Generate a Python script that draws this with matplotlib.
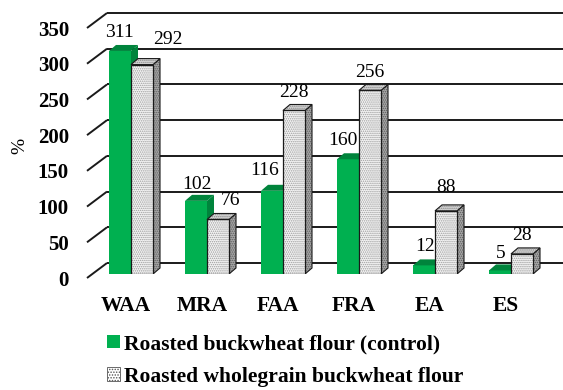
import numpy as np
import matplotlib
matplotlib.use("Agg")
import matplotlib.pyplot as plt
from matplotlib.patches import Polygon, Patch
from matplotlib.transforms import ScaledTranslation

# ---- data -------------------------------------------------------------
categories = ["WAA", "MRA", "FAA", "FRA", "EA", "ES"]
control = [311, 102, 116, 160, 12, 5]
wholegrain = [292, 76, 228, 256, 88, 28]
series_names = ["Roasted buckwheat flour (control)",
                "Roasted wholegrain buckwheat flour"]
y_ticks = [0, 50, 100, 150, 200, 250, 300, 350]

# label nudges in pixels (dx, dy) from the top-centre of each bar face
control_nudge = [(-1, 18), (1, 16), (-7, 20), (-5, 19), (1, 19), (1, 17)]
wholegrain_nudge = [(26, 25), (12, 19), (0, 18), (0, 18), (0, 23), (0, 18)]

# ---- style ------------------------------------------------------------
plt.rcParams["font.family"] = ["Liberation Serif", "DejaVu Serif"]
plt.rcParams["hatch.linewidth"] = 0.7

GREEN = "#00B050"
GREEN_DARK = "#00843C"
DOTS = "........"
W, H = 563, 390
fig = plt.figure(figsize=(W / 100, H / 100), dpi=100)


def px_axes(left, bottom_px, right, top_px, **kw):
    """Axes placed by pixel edges (y measured from the top of the figure)."""
    return fig.add_axes([left / W, (H - bottom_px) / H,
                         (right - left) / W, (bottom_px - top_px) / H], **kw)


YMAX = 350

# back wall with horizontal gridlines
ax_back = px_axes(107, 263, 563, 13)
ax_back.set_xlim(0, 1)
ax_back.set_ylim(0, YMAX)
for v in y_ticks:
    ax_back.plot([0, 1], [v, v], color="#1a1a1a", lw=1.4,
                 solid_capstyle="butt", clip_on=False)
ax_back.axis("off")

# left wall: slanted gridline stubs and the value scale
ax_side = px_axes(87, 278, 107, 28)
ax_side.set_xlim(0, 1)
ax_side.set_ylim(0, YMAX)
rise = 15 * YMAX / 250
for v in y_ticks:
    ax_side.plot([0, 1], [v, v + rise], color="#1a1a1a", lw=1.4,
                 solid_capstyle="butt", clip_on=False)
ax_side.set_xticks([])
ax_side.set_yticks(y_ticks)
ax_side.set_yticklabels([str(v) for v in y_ticks], fontsize=15,
                        fontweight="bold")
ax_side.tick_params(axis="y", length=0, pad=13)
for s in ax_side.spines.values():
    s.set_visible(False)
ax_side.patch.set_alpha(0)

# bars
ax = px_axes(93, 274, 549, 23)
ax.set_xlim(-0.5, len(categories) - 0.5)
ax.set_ylim(0, YMAX)
ax.patch.set_alpha(0)
for s in ax.spines.values():
    s.set_visible(False)

x = np.arange(len(categories))
w = 22 / 76          # bar face width in category units
ddx = 7 / 76         # depth offset, x
ddy = 6 * YMAX / 251  # depth offset, y (value units)


def side_face(x1, v):
    return [(x1, 0), (x1 + ddx, ddy), (x1 + ddx, v + ddy), (x1, v)]


def top_face(x0, x1, v):
    return [(x0, v), (x1, v), (x1 + ddx, v + ddy), (x0 + ddx, v + ddy)]


# control bars (solid green)
for xi, v in zip(x, control):
    x0, x1 = xi - w, xi
    ax.add_patch(Polygon(side_face(x1, v), facecolor=GREEN_DARK, lw=0, zorder=2))
    ax.add_patch(Polygon(top_face(x0, x1, v), facecolor=GREEN_DARK, lw=0,
                         zorder=3.2))
ax.bar(x - w / 2, control, width=w, color=GREEN, lw=0, zorder=3)

# wholegrain bars (stippled)
for xi, v in zip(x, wholegrain):
    x0, x1 = xi, xi + w
    ax.add_patch(Polygon(side_face(x1, v), facecolor="#a8a8a8", hatch=DOTS,
                         edgecolor="#5a5a5a", lw=0, zorder=4))
    ax.add_patch(Polygon(side_face(x1, v), fill=False, edgecolor="#1a1a1a",
                         lw=0.8, zorder=4.1))
    ax.add_patch(Polygon(top_face(x0, x1, v), facecolor="#d4d4d4", hatch=DOTS,
                         edgecolor="#8a8a8a", lw=0, zorder=5.2))
    ax.add_patch(Polygon(top_face(x0, x1, v), fill=False, edgecolor="#1a1a1a",
                         lw=0.8, zorder=5.3))
ax.bar(x + w / 2, wholegrain, width=w, facecolor="#f4f4f4", hatch=DOTS,
       edgecolor="#9c9c9c", lw=0, zorder=5)
ax.bar(x + w / 2, wholegrain, width=w, fill=False, edgecolor="#1a1a1a",
       lw=0.9, zorder=5.5)

# value labels
for xi, v, (dx, dy) in zip(x, control, control_nudge):
    ax.annotate(str(v), (xi - w / 2, v), xytext=(dx, dy),
                textcoords="offset pixels", ha="center", va="center",
                fontsize=14, zorder=7)
for xi, v, (dx, dy) in zip(x, wholegrain, wholegrain_nudge):
    ax.annotate(str(v), (xi + w / 2, v), xytext=(dx, dy),
                textcoords="offset pixels", ha="center", va="center",
                fontsize=14, zorder=7)

# category axis
ax.set_xticks(x)
ax.set_xticklabels(categories, fontsize=15.5, fontweight="bold")
ax.tick_params(axis="x", length=0, pad=16)
ax.set_yticks([])
shift = ScaledTranslation(-5 / 100, 0, fig.dpi_scale_trans)
for lab in ax.get_xticklabels():
    lab.set_transform(lab.get_transform() + shift)

# axis title
fig.text(20 / W, 1 - 146 / H, "%", rotation=90, ha="center", va="center",
         fontsize=14)

# legend
handles = [Patch(facecolor=GREEN, edgecolor="none"),
           Patch(facecolor="white", edgecolor="#555555", hatch="......",
                 lw=0.6)]
fig.legend(handles, series_names, loc="upper left",
           bbox_to_anchor=(107 / W, 1 - 334 / H), frameon=False,
           prop=dict(size=15.5, weight="bold"), handlelength=0.6,
           handleheight=0.6, handletextpad=0.2, labelspacing=0.6,
           borderpad=0, borderaxespad=0)

fig.savefig("out.png", dpi=100)
